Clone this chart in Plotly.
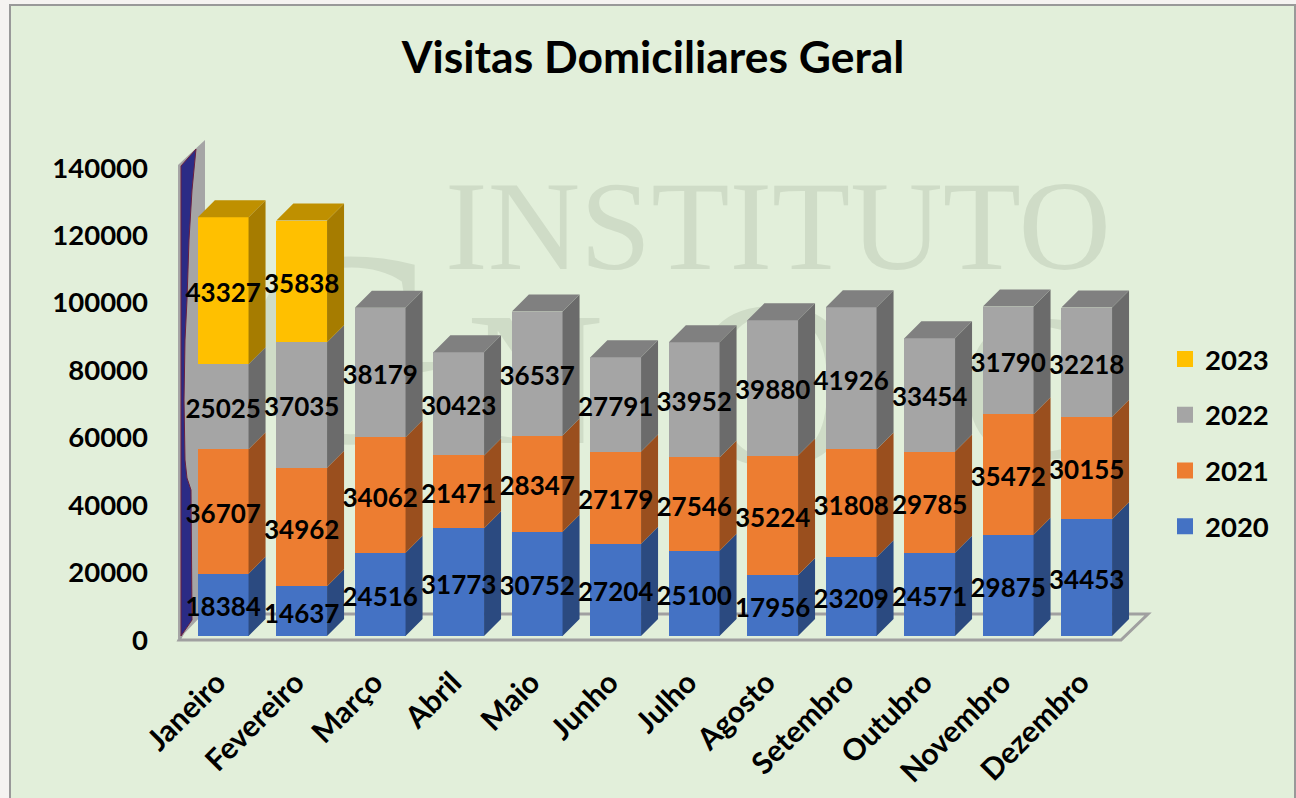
import plotly.graph_objects as go

meses = ["Janeiro", "Fevereiro", "Março", "Abril", "Maio", "Junho", "Julho",
         "Agosto", "Setembro", "Outubro", "Novembro", "Dezembro"]
v2020 = [18384, 14637, 24516, 31773, 30752, 27204, 25100, 17956, 23209, 24571, 29875, 34453]
v2021 = [36707, 34962, 34062, 21471, 28347, 27179, 27546, 35224, 31808, 29785, 35472, 30155]
v2022 = [25025, 37035, 38179, 30423, 36537, 27791, 33952, 39880, 41926, 33454, 31790, 32218]
v2023 = [43327, 35838, None, None, None, None, None, None, None, None, None, None]
tick_vals = [0, 20000, 40000, 60000, 80000, 100000, 120000, 140000]
anos = ["2020", "2021", "2022", "2023"]
series = [v2020, v2021, v2022, v2023]
front = ["#4472C4", "#ED7D31", "#A5A5A5", "#FFC000"]
side = ["#2B4A80", "#9A4F1E", "#6B6B6B", "#A67C00"]
topc = ["#35599A", "#BA6125", "#808080", "#BF9000"]

W, H = 1296, 798
PX_X = 78.5          # px per category
X0 = 223.2           # px of first category centre
PX_Y = 3.392e-3      # px per unit, bars
Y0 = 636.0           # px of bar zero
PX_T = 472 / 140000  # px per unit, tick scale
T0 = 640.0           # px of tick zero
BAR_W = 50.7 / PX_X
DX = 17 / PX_X
DY = 17 / PX_Y
FONT = "Lato"
xr = [-X0 / PX_X, (W - X0) / PX_X]
yr_bar = [-(H - Y0) / PX_Y, Y0 / PX_Y]
yr_tick = [-(H - T0) / PX_T, T0 / PX_T]


def px(x):
    return x / W


def py(y):
    return 1 - y / H


def wx(x):
    return (x - X0) / PX_X


def wy(y):
    return (T0 - y) / PX_T


fig = go.Figure()

# watermark, behind the bars (main subplot is drawn first)
WM = "#CFDCC7"
for txt, x, y, s in [("INSTITUTO", 778, 237, 128), ("N", 535, 395, 190),
                     ("O", 775, 405, 240), ("C", 1030, 405, 210), ("G", 345, 372, 280)]:
    fig.add_trace(go.Scatter(x=[wx(x)], y=[wy(y)], mode="text", text=[txt], showlegend=False,
                             hoverinfo="skip", cliponaxis=False,
                             textfont=dict(family="Liberation Serif", size=s, color=WM)))

# legend entries
for i in [3, 2, 1, 0]:
    fig.add_trace(go.Scatter(x=[None], y=[None], mode="markers", name=anos[i], legendgroup=anos[i],
                             marker=dict(symbol="square", size=18, color=front[i])))

# front faces
for i, vals in enumerate(series):
    fig.add_trace(go.Bar(x=list(range(12)), y=vals, name=anos[i], width=BAR_W, yaxis="y2",
                         marker=dict(color=front[i], line=dict(width=0)), showlegend=False))

# depth faces
totals = [0] * 12
label_x, label_y, label_t = [], [], []
for i, vals in enumerate(series):
    sx, sy = [], []
    for k, v in enumerate(vals):
        if v is None:
            continue
        b, t = totals[k], totals[k] + v
        r = k + BAR_W / 2
        sx += [r, r + DX, r + DX, r, r, None]
        sy += [b, b + DY, t + DY, t, b, None]
        label_x.append(k)
        label_y.append((b + t) / 2 - 5 / PX_Y)
        label_t.append(str(v))
        totals[k] = t
    fig.add_trace(go.Scatter(x=sx, y=sy, yaxis="y2", mode="lines", fill="toself", fillcolor=side[i],
                             line=dict(width=0), showlegend=False, hoverinfo="skip"))
for i, vals in enumerate(series):
    sx, sy = [], []
    for k, v in enumerate(vals):
        if v is None:
            continue
        later = [s[k] for s in series[i + 1:] if s[k] is not None]
        if later:
            continue
        t = sum(s[k] for s in series[:i + 1])
        l, r = k - BAR_W / 2, k + BAR_W / 2
        sx += [l, r, r + DX, l + DX, l, None]
        sy += [t, t, t + DY, t + DY, t, None]
    if sx:
        fig.add_trace(go.Scatter(x=sx, y=sy, yaxis="y2", mode="lines", fill="toself", fillcolor=topc[i],
                                 line=dict(width=0), showlegend=False, hoverinfo="skip"))

# data labels
fig.add_trace(go.Scatter(x=label_x, y=label_y, yaxis="y2", mode="text", text=label_t, showlegend=False,
                         hoverinfo="skip", cliponaxis=False, textposition="middle center",
                         textfont=dict(family=FONT, size=26, color="#000000", weight=700)))


def poly(points, fill, line=None, lw=0):
    path = "M" + "L".join(f"{px(a):.5f},{py(b):.5f}" for a, b in points) + "Z"
    return dict(type="path", xref="paper", yref="paper", path=path, fillcolor=fill, layer="below",
                line=dict(color=line or fill, width=lw))


shapes = [
    poly([(10, 5), (1295, 5), (1295, 800), (10, 800)], "#E2EFDA", "#999999", 2),
    poly([(179, 640), (1121, 640), (1148, 614), (193, 614)], "#E2EFDA", "#A0A0A0", 3),
    poly([(178, 165), (205, 140), (205, 612), (178, 640)], "#A5A5A5"),
    poly([(181, 166), (196, 149), (192, 190), (189, 240), (187, 300), (185, 340), (184, 400), (185, 460),
          (187, 478), (191, 490), (192, 620), (181, 636)], "#2B2B85", "#6B2040", 1),
]

fig.update_layout(
    width=W, height=H, autosize=False,
    margin=dict(l=0, r=0, t=0, b=0, pad=0),
    paper_bgcolor="#F5F3F1", plot_bgcolor="rgba(0,0,0,0)",
    barmode="stack", bargap=0, shapes=shapes, showlegend=True,
    font=dict(family=FONT, color="#000000"),
    title=dict(text="Visitas Domiciliares Geral", x=px(653), y=py(57), xref="paper", yref="paper",
               xanchor="center", yanchor="middle",
               font=dict(family=FONT, size=44.4, color="#000000", weight=700)),
    xaxis=dict(range=xr, domain=[0, 1], anchor="free", position=py(658), tickmode="array",
               tickvals=[k - 6 / PX_X for k in range(12)], ticktext=meses, tickangle=-45, showgrid=False,
               zeroline=False, showline=False, ticks="", ticklen=0, automargin=False,
               tickfont=dict(family=FONT, size=30, color="#000000", weight=700)),
    yaxis=dict(range=yr_tick, domain=[0, 1], anchor="free", position=px(148), tickmode="array",
               tickvals=tick_vals, ticktext=[str(v) for v in tick_vals], showgrid=False, zeroline=False,
               showline=False, ticks="", automargin=False,
               tickfont=dict(family=FONT, size=27.5, color="#000000", weight=700)),
    yaxis2=dict(range=yr_bar, domain=[0, 1], overlaying="y", visible=False, anchor="x"),
    legend=dict(x=px(1165), y=py(334.5), xanchor="left", yanchor="top", bgcolor="rgba(0,0,0,0)",
                tracegroupgap=17, itemwidth=30, itemclick=False, itemdoubleclick=False,
                font=dict(family=FONT, size=27.5, color="#000000", weight=700)),
)
fig.write_html("out.html", config=dict(displayModeBar=False),
               post_script="document.body.style.margin='0';document.documentElement.style.overflow='hidden';")
